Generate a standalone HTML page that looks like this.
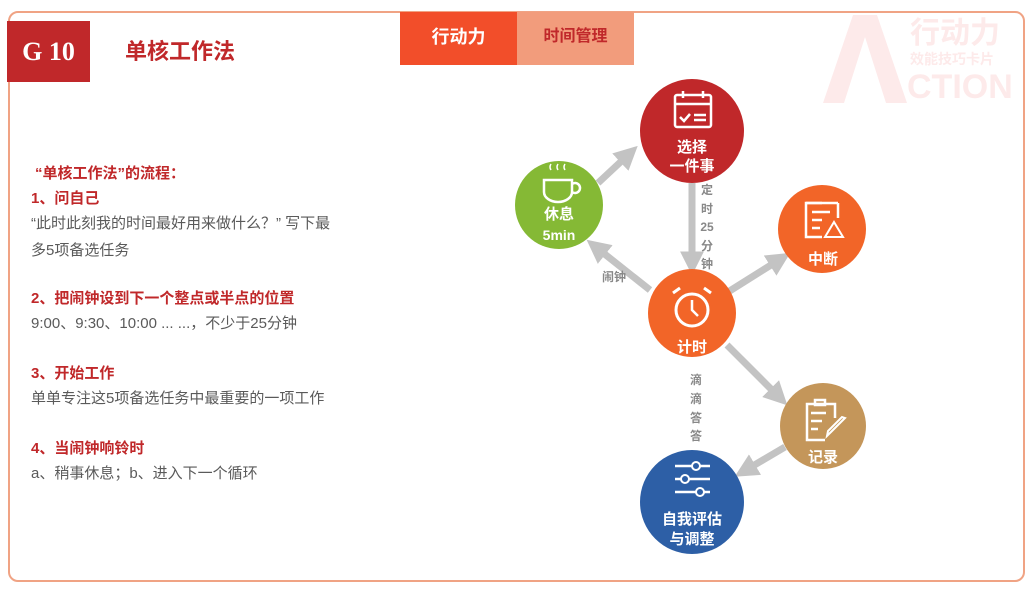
<!DOCTYPE html>
<html><head><meta charset="utf-8"><style>
body{margin:0;width:1035px;height:589px;background:#fff;position:relative;overflow:hidden;font-family:"Liberation Sans","Noto Sans CJK SC",sans-serif;}
.a{position:absolute}
.frame{left:8px;top:11px;width:1013px;height:567px;border:2px solid #f0a384;border-radius:10px;}
.h{color:#c0282a;font-weight:bold;font-size:15px;}
.t{color:#5a5a5a;font-size:15px;line-height:27px;}
.w{color:#fdeaea;font-weight:bold;white-space:nowrap;}
</style></head><body>
<div class="a frame"></div>
<svg class="a" style="left:820px;top:12px" width="100" height="95"><polygon points="3,91 33,3 57,3 87,91 66,91 45,25 24,91" fill="#fdeaea"/></svg>
<div class="a w" style="left:910px;top:8px;font-size:30px;">行动力</div>
<div class="a w" style="left:910px;top:49px;font-size:14px;">效能技巧卡片</div>
<div class="a w" style="left:907px;top:68px;font-size:34px;">CTION</div>
<div class="a" style="left:7px;top:21px;width:83px;height:61px;background:#c0282a;color:#fff;font-family:'Liberation Serif',serif;font-weight:bold;font-size:26px;line-height:61px;text-align:center;">G 10</div>
<div class="a" style="left:125px;top:34px;font-size:22px;font-weight:bold;color:#c0282a;">单核工作法</div>
<div class="a" style="left:400px;top:12px;width:117px;height:53px;background:#f24e2a;color:#fff;font-weight:bold;font-size:18px;line-height:50px;text-align:center;">行动力</div>
<div class="a" style="left:517px;top:12px;width:117px;height:53px;background:#f29c7c;color:#c0282a;font-weight:bold;font-size:16px;line-height:50px;text-align:center;">时间管理</div>

<div class="a h" style="left:35px;top:162px;">“单核工作法”的流程：</div>
<div class="a h" style="left:31px;top:187px;">1、问自己</div>
<div class="a t" style="left:31px;top:210px;width:330px;">“此时此刻我的时间最好用来做什么？” 写下最<br>多5项备选任务</div>
<div class="a h" style="left:31px;top:287px;">2、把闹钟设到下一个整点或半点的位置</div>
<div class="a t" style="left:31px;top:310px;">9:00、9:30、10:00 ... ...，不少于25分钟</div>
<div class="a h" style="left:31px;top:362px;">3、开始工作</div>
<div class="a t" style="left:31px;top:385px;">单单专注这5项备选任务中最重要的一项工作</div>
<div class="a h" style="left:31px;top:437px;">4、当闹钟响铃时</div>
<div class="a t" style="left:31px;top:460px;">a、稍事休息；b、进入下一个循环</div>

<svg class="a" style="left:0;top:0" width="1035" height="589">
<defs><marker id="m" markerWidth="3.4" markerHeight="3.4" refX="1.5" refY="1.7" orient="auto"><path d="M0,0 L3.4,1.7 L0,3.4 z" fill="#c3c3c3"/></marker></defs>
<g stroke="#c3c3c3" stroke-width="7" marker-end="url(#m)">
<line x1="598" y1="183" x2="628" y2="155"/>
<line x1="692" y1="183" x2="692" y2="262"/>
<line x1="650" y1="290" x2="597" y2="248"/>
<line x1="728" y1="292" x2="779" y2="260"/>
<line x1="727" y1="345" x2="778" y2="396"/>
<line x1="785" y1="447" x2="746" y2="470"/>
</g>
<circle cx="692" cy="131" r="52" fill="#c0282a"/>
<circle cx="559" cy="205" r="44" fill="#85b935"/>
<circle cx="822" cy="229" r="44" fill="#f26528"/>
<circle cx="692" cy="313" r="44" fill="#f26528"/>
<circle cx="823" cy="426" r="43" fill="#c4965a"/>
<circle cx="692" cy="502" r="52" fill="#2d5fa6"/>
<g fill="none" stroke="#fff" stroke-width="2.5">
<rect x="675" y="95" width="36" height="32" rx="2"/><line x1="675" y1="104" x2="711" y2="104"/><line x1="683" y1="91" x2="683" y2="98"/><line x1="703" y1="91" x2="703" y2="98"/><path d="M680 117l4 4 6-7"/><line x1="694" y1="115" x2="706" y2="115"/><line x1="694" y1="120" x2="706" y2="120"/>
<path d="M544 180h28v12a14 10 0 0 1-28 0z"/><path d="M572 184a5 5 0 1 1 0 8"/><path d="M551 170q-2-3 0-6M558 170q-2-3 0-6M565 170q-2-3 0-6" stroke-width="1.5"/>
<path d="M822 203h-16v34h16"/><line x1="806" y1="203" x2="838" y2="203"/><line x1="838" y1="203" x2="838" y2="218"/><line x1="812" y1="212" x2="830" y2="212"/><line x1="812" y1="220" x2="822" y2="220"/><line x1="812" y1="228" x2="820" y2="228"/><path d="M834 222l9 15h-18z" stroke-width="2"/>
<circle cx="692" cy="310" r="16" stroke-width="3"/><path d="M692 300v10l6 6"/><line x1="673" y1="293" x2="680" y2="288" stroke-width="3"/><line x1="711" y1="293" x2="704" y2="288" stroke-width="3"/>
<path d="M825 440h-18v-36h28v14"/><rect x="815" y="400" width="10" height="5"/><line x1="811" y1="413" x2="826" y2="413"/><line x1="811" y1="421" x2="822" y2="421"/><line x1="811" y1="429" x2="818" y2="429"/><path d="M845 418l-14 14-4 4 1-5 14-14z" stroke-width="2"/>
<line x1="675" y1="466" x2="710" y2="466"/><line x1="675" y1="479" x2="710" y2="479"/><line x1="675" y1="492" x2="710" y2="492"/>
</g>
<g fill="#2d5fa6" stroke="#fff" stroke-width="2"><circle cx="696" cy="466" r="4"/><circle cx="685" cy="479" r="4"/><circle cx="700" cy="492" r="4"/></g>
<g fill="#fff" font-weight="bold" text-anchor="middle" font-family="Liberation Sans,Noto Sans CJK SC,sans-serif">
<text x="692" y="152" font-size="15">选择</text><text x="692" y="171" font-size="15">一件事</text>
<text x="559" y="219" font-size="15">休息</text><text x="559" y="240" font-size="14">5min</text>
<text x="823" y="264" font-size="15">中断</text>
<text x="692" y="352" font-size="15">计时</text>
<text x="823" y="462" font-size="15">记录</text>
<text x="692" y="524" font-size="15">自我评估</text><text x="692" y="544" font-size="15">与调整</text>
</g>
<g fill="#888" font-weight="bold" font-size="12" text-anchor="middle" font-family="Liberation Sans,Noto Sans CJK SC,sans-serif">
<text x="707" y="194">定</text><text x="707" y="213">时</text><text x="707" y="231">25</text><text x="707" y="250">分</text><text x="707" y="268">钟</text>
<text x="614" y="281">闹钟</text>
<text x="696" y="384">滴</text><text x="696" y="403">滴</text><text x="696" y="422">答</text><text x="696" y="440">答</text>
</g>
</svg>
</body></html>
